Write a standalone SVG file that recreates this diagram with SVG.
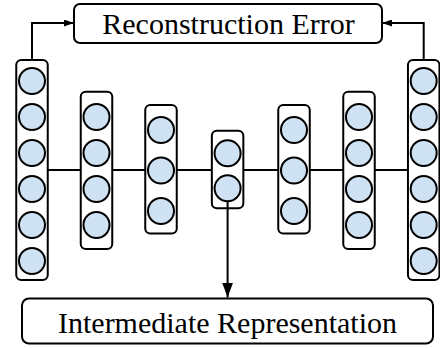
<svg xmlns="http://www.w3.org/2000/svg" width="440" height="348" viewBox="0 0 440 348">
  <defs>
    <style>
      .col { fill: #ffffff; stroke: #000000; stroke-width: 2; }
      .unit { fill: #cfe2f3; stroke: #000000; stroke-width: 2; }
      .box { fill: #ffffff; stroke: #000000; stroke-width: 2; }
      .lbl { font-family: "Liberation Serif", "Times New Roman", serif; font-size: 30px; fill: #000000; text-anchor: middle; }
      .edge { fill: none; stroke: #000000; stroke-width: 2; }
    </style>
    <marker id="arrS" markerUnits="userSpaceOnUse" markerWidth="10" markerHeight="7" refX="10" refY="3.5" orient="auto">
      <path d="M0,0 L10,3.5 L0,7 z" fill="#000000"/>
    </marker>
    <marker id="arrL" markerUnits="userSpaceOnUse" markerWidth="15" markerHeight="11" refX="15" refY="5.5" orient="auto">
      <path d="M0,0 L15,5.5 L0,11 z" fill="#000000"/>
    </marker>
  </defs>
  <rect width="440" height="348" fill="#ffffff"/>

  <g id="reconstruction-error">
    <rect class="box" x="74" y="4" width="308" height="39" rx="6"/>
    <text class="lbl" x="228.5" y="34">Reconstruction Error</text>
  </g>

  <g id="intermediate-representation">
    <rect class="box" x="22" y="298.5" width="411" height="45" rx="7"/>
    <text class="lbl" x="227.5" y="333">Intermediate Representation</text>
  </g>

  <g id="layer-in">
    <rect class="col" x="16.25" y="60" width="31.5" height="220" rx="5"/>
    <circle class="unit" cx="32" cy="81" r="13"/>
    <circle class="unit" cx="32" cy="117" r="13"/>
    <circle class="unit" cx="32" cy="153" r="13"/>
    <circle class="unit" cx="32" cy="189" r="13"/>
    <circle class="unit" cx="32" cy="225" r="13"/>
    <circle class="unit" cx="32" cy="261" r="13"/>
  </g>
  <g id="layer-enc1">
    <rect class="col" x="80.75" y="91.7" width="31.5" height="157.3" rx="5"/>
    <circle class="unit" cx="96.5" cy="117" r="13"/>
    <circle class="unit" cx="96.5" cy="153" r="13"/>
    <circle class="unit" cx="96.5" cy="189" r="13"/>
    <circle class="unit" cx="96.5" cy="225" r="13"/>
  </g>
  <g id="layer-enc2">
    <rect class="col" x="145.25" y="105" width="31.5" height="128.5" rx="5"/>
    <circle class="unit" cx="161" cy="130" r="13"/>
    <circle class="unit" cx="161" cy="170.5" r="13"/>
    <circle class="unit" cx="161" cy="211" r="13"/>
  </g>
  <g id="layer-code">
    <rect class="col" x="211.85" y="130.7" width="31.5" height="77.6" rx="5"/>
    <circle class="unit" cx="227.6" cy="153.3" r="13"/>
    <circle class="unit" cx="227.6" cy="188.3" r="13"/>
  </g>
  <g id="layer-dec1">
    <rect class="col" x="278.25" y="105" width="31.5" height="128.5" rx="5"/>
    <circle class="unit" cx="294" cy="130" r="13"/>
    <circle class="unit" cx="294" cy="170.5" r="13"/>
    <circle class="unit" cx="294" cy="211" r="13"/>
  </g>
  <g id="layer-dec2">
    <rect class="col" x="343.25" y="91.7" width="31.5" height="157.3" rx="5"/>
    <circle class="unit" cx="359" cy="117" r="13"/>
    <circle class="unit" cx="359" cy="153" r="13"/>
    <circle class="unit" cx="359" cy="189" r="13"/>
    <circle class="unit" cx="359" cy="225" r="13"/>
  </g>
  <g id="layer-out">
    <rect class="col" x="407.95" y="60" width="31.5" height="220" rx="5"/>
    <circle class="unit" cx="423.7" cy="81" r="13"/>
    <circle class="unit" cx="423.7" cy="117" r="13"/>
    <circle class="unit" cx="423.7" cy="153" r="13"/>
    <circle class="unit" cx="423.7" cy="189" r="13"/>
    <circle class="unit" cx="423.7" cy="225" r="13"/>
    <circle class="unit" cx="423.7" cy="261" r="13"/>
  </g>

  <g id="connectors">
    <path class="edge" d="M47.75,170 H80.75"/>
    <path class="edge" d="M112.25,170 H145.25"/>
    <path class="edge" d="M176.75,170 H211.85"/>
    <path class="edge" d="M243.35,170 H278.25"/>
    <path class="edge" d="M309.75,170 H343.25"/>
    <path class="edge" d="M374.75,170 H407.95"/>
    <path class="edge" d="M32,60 V23 H74" marker-end="url(#arrS)"/>
    <path class="edge" d="M423.7,60 V23 H382" marker-end="url(#arrS)"/>
    <path class="edge" d="M227.6,201.3 V297.5" marker-end="url(#arrL)"/>
  </g>
</svg>
